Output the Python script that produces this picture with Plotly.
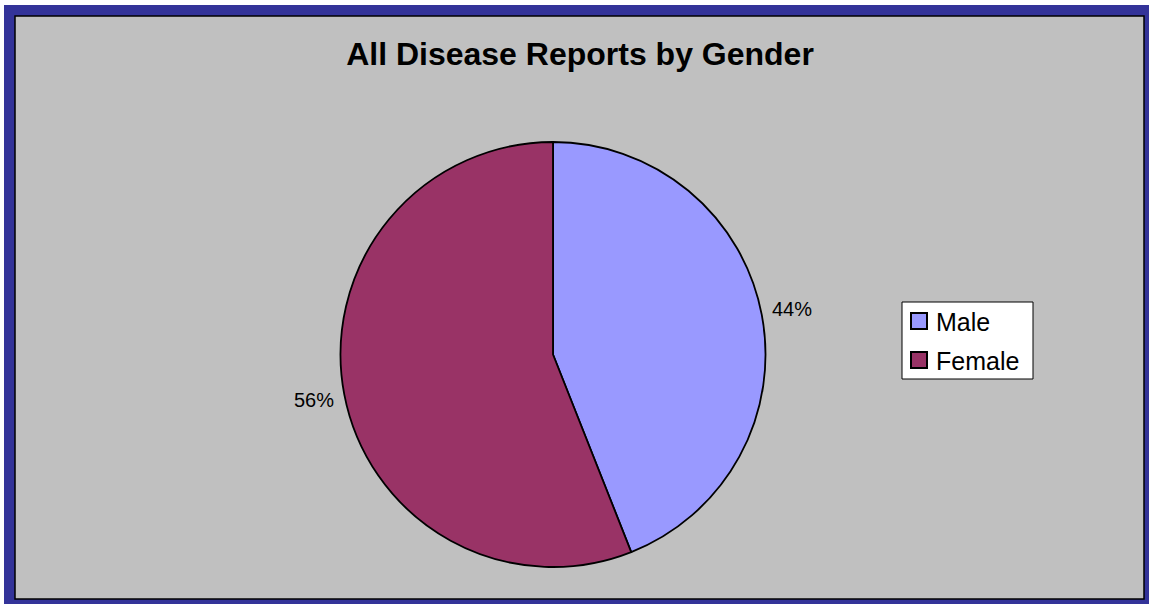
import math
import plotly.graph_objects as go

# Disease report counts split by gender (shares in percent)
genders = ["Male", "Female"]
shares = [44, 56]
slice_colors = ["#9999FF", "#993366"]

W, H = 1149, 604
FONT = "Arial, Liberation Sans, sans-serif"

# pie geometry in pixels
CX, CY, R = 553, 354.5, 212.5
LABEL_R = 243


def px_x(v):
    return v / W


def px_y(v):
    return 1 - v / H


fig = go.Figure()

fig.add_trace(go.Pie(
    labels=genders,
    values=shares,
    sort=False,
    direction="clockwise",
    rotation=0,
    marker=dict(colors=slice_colors, line=dict(color="black", width=1.8)),
    textinfo="none",
    domain=dict(x=[px_x(CX - R), px_x(CX + R)], y=[px_y(CY + R), px_y(CY - R)]),
    hoverinfo="label+percent",
    showlegend=False,
))

# Blue outer frame and grey chart area
fig.add_shape(type="rect", xref="paper", yref="paper",
              x0=px_x(4), x1=1, y0=0, y1=px_y(5),
              fillcolor="#333399", line=dict(width=0), layer="below")
fig.add_shape(type="rect", xref="paper", yref="paper",
              x0=px_x(15), x1=px_x(1144), y0=px_y(599), y1=px_y(16),
              fillcolor="#C0C0C0", line=dict(color="black", width=1.5), layer="below")

# Percentage labels outside each slice, placed along the slice mid-angle
total = sum(shares)
start = 0.0
for share in shares:
    frac = share / total
    mid = (start + frac / 2) * 2 * math.pi
    start += frac
    lx = CX + LABEL_R * math.sin(mid)
    ly = CY - LABEL_R * math.cos(mid)
    fig.add_annotation(
        x=px_x(lx), y=px_y(ly), xref="paper", yref="paper",
        text=f"{round(frac * 100)}%", showarrow=False,
        xanchor="center", yanchor="middle",
        font=dict(family=FONT, size=20, color="black"),
    )

# Legend box with swatches
fig.add_shape(type="rect", xref="paper", yref="paper",
              x0=px_x(902), x1=px_x(1033), y0=px_y(379), y1=px_y(302),
              fillcolor="white", line=dict(color="black", width=1))
for i, (name, color) in enumerate(zip(genders, slice_colors)):
    top = 313 + i * 39
    fig.add_shape(type="rect", xref="paper", yref="paper",
                  x0=px_x(911), x1=px_x(927), y0=px_y(top + 16), y1=px_y(top),
                  fillcolor=color, line=dict(color="black", width=2))
    fig.add_annotation(
        x=px_x(934), y=px_y(top + 9), xref="paper", yref="paper",
        text=name, showarrow=False, xanchor="left", yanchor="middle",
        font=dict(family=FONT, size=25, color="black"),
    )

fig.update_layout(
    width=W, height=H,
    margin=dict(l=0, r=0, t=0, b=0),
    paper_bgcolor="white",
    plot_bgcolor="white",
    title=dict(
        text="<b>All Disease Reports by Gender</b>",
        x=px_x(580), y=px_y(54), xanchor="center", yanchor="middle",
        xref="paper", yref="paper",
        font=dict(family=FONT, size=32, color="black"),
    ),
    showlegend=False,
)

fig.write_html("out.html")
